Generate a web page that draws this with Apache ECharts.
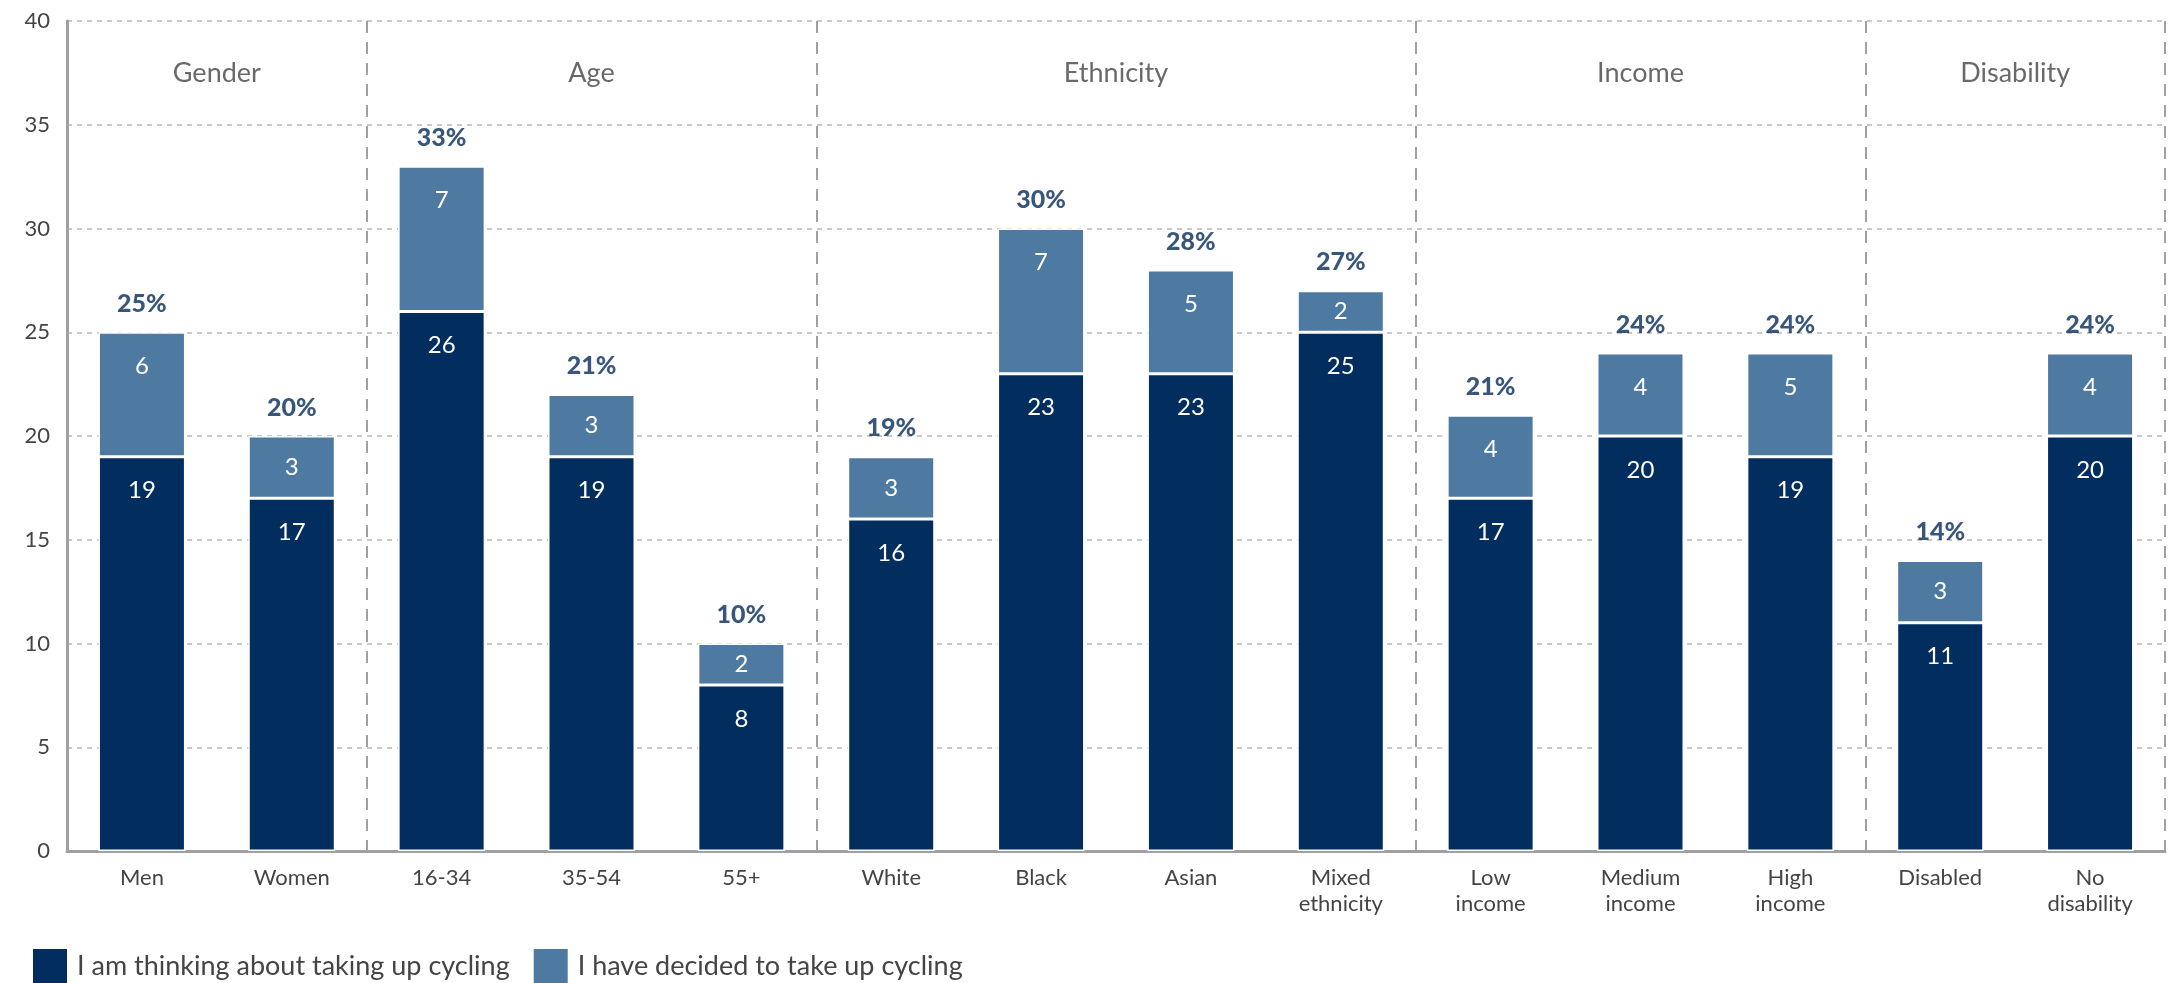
<!DOCTYPE html>
<html>
<head>
<meta charset="utf-8">
<script src="https://cdn.jsdelivr.net/npm/echarts@6/dist/echarts.min.js"></script>
<style>
html,body{margin:0;padding:0;background:#fff;}
#chart{width:2176px;height:983px;}
</style>
</head>
<body>
<div id="chart"></div>
<script>
const categories = ['Men','Women','16-34','35-54','55+','White','Black','Asian','Mixed\nethnicity','Low\nincome','Medium\nincome','High\nincome','Disabled','No\ndisability'];
const thinking = [19,17,26,19,8,16,23,23,25,17,20,19,11,20];
const decided = [6,3,7,3,2,3,7,5,2,4,4,5,3,4];
const totalLabels = ['25%','20%','33%','21%','10%','19%','30%','28%','27%','21%','24%','24%','14%','24%'];
const groupNames = ['Gender','Age','Ethnicity','Income','Disability'];
const groupSizes = [2,3,4,3,2];
const yTicks = [0,5,10,15,20,25,30,35,40];
const seriesNames = ['I am thinking about taking up cycling','I have decided to take up cycling'];

const DARK = '#022d5f';
const LIGHT = '#4e79a1';
const FONT = 'Lato, "Open Sans", sans-serif';

// group boundaries (category index where each new group starts)
const boundaries = [];
let acc = 0;
groupSizes.forEach((s, i) => { if (i > 0) boundaries.push(acc); acc += s; });
const groupCenters = [];
acc = 0;
groupSizes.forEach(s => { groupCenters.push(acc + s / 2); acc += s; });

const totals = thinking.map((v, i) => v + decided[i]);

function segLabel(v) {
  return v <= 3 ? { position: 'inside' } : { position: 'insideTop', distance: 22 };
}

const chart = echarts.init(document.getElementById('chart'));
chart.setOption({
  animation: false,
  textStyle: { fontFamily: FONT },
  grid: { left: 67, right: 11, top: 21, bottom: 132, containLabel: false },
  legend: {
    data: seriesNames,
    left: 26, top: 942,
    itemWidth: 36, itemHeight: 36, itemGap: 22,
    icon: 'rect',
    textStyle: { fontSize: 27, color: '#444', fontFamily: FONT, padding: [0, 0, 0, 4] }
  },
  xAxis: [{
    type: 'category',
    data: categories,
    axisLine: { lineStyle: { color: '#a0a0a4', width: 3 } },
    axisTick: { show: false },
    axisLabel: { color: '#444', fontSize: 22, lineHeight: 26, margin: 14, fontFamily: FONT, interval: 0 },
    splitLine: {
      show: true,
      interval: (idx) => boundaries.indexOf(idx) >= 0,
      lineStyle: { color: '#a0a0a0', width: 2, type: [12, 9] }
    }
  }, {
    type: 'value', min: 0, max: categories.length, show: false
  }],
  yAxis: {
    type: 'value', min: yTicks[0], max: yTicks[yTicks.length - 1], interval: 5,
    axisLine: { show: true, lineStyle: { color: '#a0a0a4', width: 3 } },
    axisTick: { show: false },
    axisLabel: { color: '#444', fontSize: 22, margin: 17, fontFamily: FONT },
    splitLine: { lineStyle: { color: '#b8b8b8', width: 1.5, type: [5, 5] } }
  },
  series: [{
    name: seriesNames[0], type: 'bar', stack: 's', barWidth: 87,
    itemStyle: { color: DARK, borderColor: '#fff', borderWidth: 1.5 },
    label: { show: true, color: '#fff', fontSize: 24, fontFamily: FONT },
    data: thinking.map(v => ({ value: v, label: segLabel(v) }))
  }, {
    name: seriesNames[1], type: 'bar', stack: 's', barWidth: 87,
    itemStyle: { color: LIGHT, borderColor: '#fff', borderWidth: 1.5 },
    label: { show: true, color: '#fff', fontSize: 24, fontFamily: FONT },
    data: decided.map(v => ({ value: v, label: segLabel(v) }))
  }, {
    name: 'totals', type: 'scatter', symbolSize: 0, silent: true,
    data: totals,
    label: {
      show: true, position: 'top', distance: 16,
      formatter: p => totalLabels[p.dataIndex],
      color: '#062a5a', fontSize: 25, fontWeight: 900, fontFamily: FONT
    }
  }, {
    name: 'groups', type: 'scatter', xAxisIndex: 1, symbolSize: 0, silent: true,
    data: groupCenters.map(c => [c, 37.5]),
    label: {
      show: true, position: 'inside',
      formatter: p => groupNames[p.dataIndex],
      color: '#444', fontSize: 27, fontFamily: FONT
    }
  }]
});
</script>
</body>
</html>
